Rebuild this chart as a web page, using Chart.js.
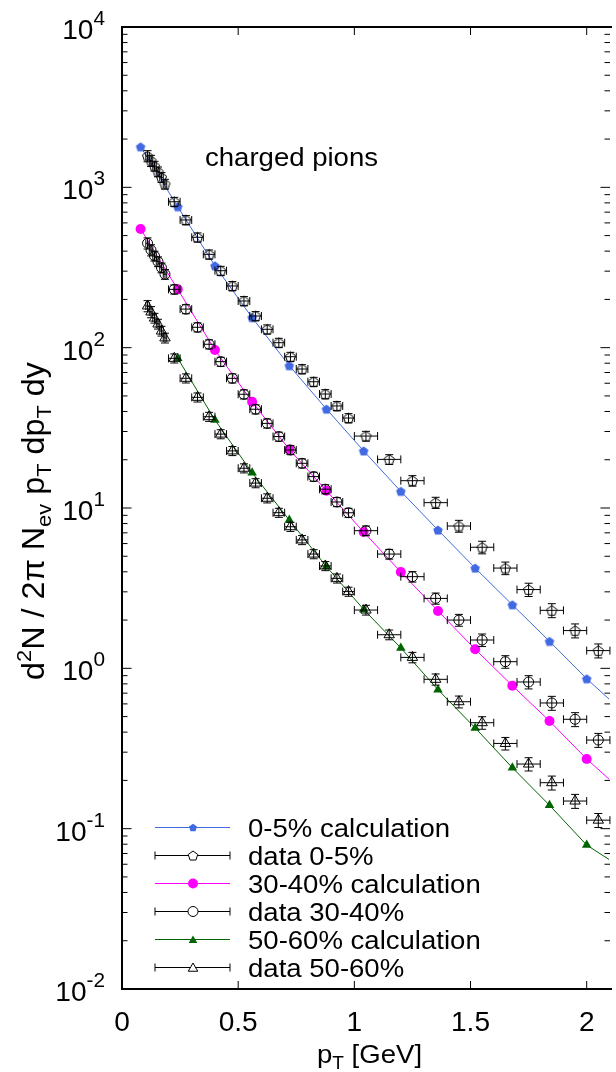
<!DOCTYPE html>
<html><head><meta charset="utf-8">
<script src="https://cdn.jsdelivr.net/npm/chart.js@4"></script>
<style>html,body{margin:0;padding:0;background:#fff;overflow:hidden}#wrap{width:616px;height:1072px}</style>
</head><body><div id="wrap"><canvas id="c" width="616" height="1072"></canvas></div>
<script>
// ---- data ----
const calcPt = [0.08,0.24,0.40,0.56,0.72,0.88,1.04,1.20,1.36,1.52,1.68,1.84,2.00,2.16];
const calc0_5 = [1791,757,324,154,77.2,41.4,22.7,12.7,7.29,4.22,2.49,1.474,0.861,0.53];
const calc30_40 = [550,231,96.7,46.0,23.2,12.8,7.08,3.99,2.28,1.315,0.78,0.469,0.272,0.168];
const calc50_60 = [null,85.8,35.4,16.6,8.41,4.31,2.33,1.34,0.736,0.425,0.240,0.140,0.079,0.056];

const dataPt = [0.11,0.125,0.14,0.155,0.17,0.185,
  0.225,0.275,0.325,0.375,0.425,0.475,0.525,0.575,0.625,0.675,0.725,0.775,0.825,0.875,0.925,0.975,
  1.05,1.15,1.25,1.35,1.45,1.55,1.65,1.75,1.85,1.95,2.05];
const dataPtErr = [0.0075,0.0075,0.0075,0.0075,0.0075,0.0075,
  0.025,0.025,0.025,0.025,0.025,0.025,0.025,0.025,0.025,0.025,0.025,0.025,0.025,0.025,0.025,0.025,
  0.05,0.05,0.05,0.05,0.05,0.05,0.05,0.05,0.05,0.05,0.05];
const data0_5 = [1568,1466,1358,1252,1155,1049,
  813,626,488,382,302,242.6,195.5,157.6,130.2,107.4,87.8,73.6,61.3,51.4,43.3,36.4,
  28.1,20.1,14.8,10.8,7.72,5.69,4.22,3.10,2.30,1.72,1.29];
const data30_40 = [448,406,373,344,315,287,
  231,174,134,105,81.8,64.4,51.2,41.3,33.7,27.9,23.0,19.0,15.7,13.1,10.9,9.34,
  7.22,5.16,3.73,2.73,2.00,1.502,1.10,0.822,0.608,0.481,0.357];
const data50_60 = [182,167,153,140.5,127,115,
  85.8,64.4,49.0,37.1,28.9,22.7,17.7,14.3,11.5,9.35,7.64,6.32,5.16,4.35,3.64,3.01,
  2.31,1.62,1.17,0.854,0.619,0.458,0.340,0.253,0.1935,0.1487,0.113];
const relErr = [0.08,0.08,0.07,0.07,0.07,0.07,
  0.065,0.065,0.065,0.065,0.065,0.065,0.065,0.065,0.065,0.065,0.065,0.065,0.065,0.065,0.065,0.065,
  0.07,0.07,0.075,0.08,0.085,0.09,0.09,0.095,0.1,0.1,0.1];

const xTicks = [0,0.5,1,1.5,2];
const xTickLabels = ['0','0.5','1','1.5','2'];
const yTickExps = [-2,-1,0,1,2,3,4];
const legendLabels = ['0-5% calculation','data 0-5%','30-40% calculation','data 30-40%','50-60% calculation','data 50-60%'];

// ---- styles ----
const FONT = '"Liberation Sans", Arial, Helvetica, sans-serif';
const BLUE = '#4169e1', MAG = '#ff00ff', GRN = '#006400';

function polyPath(g, n, cx, cy, r) {
  g.beginPath();
  for (let i = 0; i < n; i++) {
    const a = -Math.PI/2 + i*2*Math.PI/n;
    const px = cx + r*Math.cos(a), py = cy + r*Math.sin(a);
    if (i) g.lineTo(px, py); else g.moveTo(px, py);
  }
  g.closePath();
}
function polyCanvas(n, r, fill, stroke, lw) {
  const s = Math.ceil(2*r + 4);
  const c = document.createElement('canvas'); c.width = s; c.height = s;
  const g = c.getContext('2d');
  polyPath(g, n, s/2, s/2 + r*0.1, r);
  if (fill) { g.fillStyle = fill; g.fill(); }
  if (stroke) { g.strokeStyle = stroke; g.lineWidth = lw; g.stroke(); }
  return c;
}
const pentFilled = polyCanvas(5, 5, BLUE, null, 0);
const pentOpen = polyCanvas(5, 5.3, null, '#000', 1);

function pts(xs, ys) { return xs.map((p, i) => ({x: p, y: ys[i]})); }

function calcDs(vals, color, style, r) {
  return { data: pts(calcPt, vals), showLine: true, borderColor: color, borderWidth: 1,
    pointStyle: style, pointRadius: r, pointBackgroundColor: color, pointBorderColor: color,
    pointBorderWidth: 0, order: 2, spanGaps: false };
}
function dataDs(vals, style, r) {
  return { data: pts(dataPt, vals), showLine: false, pointStyle: style, pointRadius: r,
    pointBackgroundColor: 'rgba(0,0,0,0)', pointBorderColor: '#000', pointBorderWidth: 1, order: 1 };
}

function richWidth(ctx, parts) {
  let total = 0;
  for (const p of parts) { ctx.font = p[1] + 'px ' + FONT; total += ctx.measureText(p[0]).width; }
  return total;
}
function drawRich(ctx, parts, x, y, align, sx) {
  sx = sx || 1;
  const total = richWidth(ctx, parts) * sx;
  const start = align === 'right' ? x - total : align === 'center' ? x - total/2 : x;
  ctx.save();
  ctx.translate(start, y); ctx.scale(sx, 1);
  ctx.textAlign = 'left'; ctx.textBaseline = 'alphabetic';
  let cx = 0;
  for (const p of parts) {
    ctx.font = p[1] + 'px ' + FONT;
    ctx.fillText(p[0], cx, p[2] || 0);
    cx += ctx.measureText(p[0]).width;
  }
  ctx.restore();
}

const errPlugin = {
  id: 'errbars',
  afterDatasetsDraw(chart) {
    const {ctx, chartArea: a, scales: {x, y}} = chart;
    ctx.save();
    ctx.beginPath(); ctx.rect(a.left, a.top, a.width + 5, a.height); ctx.clip();
    ctx.strokeStyle = '#000'; ctx.lineWidth = 1;
    const cap = 4;
    for (const ser of [data0_5, data30_40, data50_60]) {
      for (let i = 0; i < dataPt.length; i++) {
        const v = ser[i];
        const px = x.getPixelForValue(dataPt[i]);
        const x0 = x.getPixelForValue(dataPt[i] - dataPtErr[i]);
        const x1 = x.getPixelForValue(dataPt[i] + dataPtErr[i]);
        const py = y.getPixelForValue(v);
        const y0 = y.getPixelForValue(v * (1 - relErr[i]));
        const y1 = y.getPixelForValue(v * (1 + relErr[i]));
        ctx.beginPath();
        ctx.moveTo(x0, py); ctx.lineTo(x1, py);
        ctx.moveTo(x0, py - cap); ctx.lineTo(x0, py + cap);
        ctx.moveTo(x1, py - cap); ctx.lineTo(x1, py + cap);
        ctx.moveTo(px, y0); ctx.lineTo(px, y1);
        ctx.moveTo(px - cap, y0); ctx.lineTo(px + cap, y0);
        ctx.moveTo(px - cap, y1); ctx.lineTo(px + cap, y1);
        ctx.stroke();
      }
    }
    ctx.restore();
  }
};

const framePlugin = {
  id: 'frame',
  afterDraw(chart) {
    const {ctx, chartArea: a, scales: {x, y}} = chart;
    const R = a.right + 1; // right axis sits just off the canvas
    ctx.save();
    ctx.strokeStyle = '#000'; ctx.fillStyle = '#000';
    ctx.lineWidth = 1;
    ctx.beginPath();
    for (let k = 0; k < yTickExps.length; k++) {
      const e = yTickExps[k];
      for (let m = 1; m < 10; m++) {
        if (k === yTickExps.length - 1 && m > 1) break;
        const py = y.getPixelForValue(m * Math.pow(10, e));
        const len = m === 1 ? 9.5 : 5.5;
        ctx.moveTo(a.left, py); ctx.lineTo(a.left + len, py);
        ctx.moveTo(R, py); ctx.lineTo(R - len, py);
      }
    }
    for (const t of xTicks) {
      const px = x.getPixelForValue(t);
      ctx.moveTo(px, a.bottom); ctx.lineTo(px, a.bottom - 8);
      ctx.moveTo(px, a.top); ctx.lineTo(px, a.top + 8);
    }
    ctx.stroke();
    // border (left, top, bottom; right one is off-canvas)
    ctx.lineWidth = 2;
    ctx.beginPath();
    ctx.moveTo(R + 2, a.top); ctx.lineTo(a.left, a.top); ctx.lineTo(a.left, a.bottom); ctx.lineTo(R + 2, a.bottom);
    ctx.stroke();

    // y tick labels
    for (const e of yTickExps) {
      const py = y.getPixelForValue(Math.pow(10, e));
      drawRich(ctx, [['10', 27, 0], [String(e), 20, -14]], 105, py + 12, 'right', 1.04);
    }
    // x tick labels
    xTicks.forEach((t, i) => {
      drawRich(ctx, [[xTickLabels[i], 27, 0]], x.getPixelForValue(t), 1031, 'center', 1.04);
    });
    // x title
    drawRich(ctx, [['p', 26, 0], ['T', 18, 6], [' [GeV]', 26, 0]], 369.5, 1063, 'center', 1.06);
    // y title (rotated, fitted to its length in the picture)
    const yTitle = [['d', 31, 0], ['2', 21, -13], ['N / 2\u03c0 N', 31, 0], ['ev', 21, 7],
      [' p', 31, 0], ['T', 21, 7], [' dp', 31, 0], ['T', 21, 7], [' dy', 31, 0]];
    const tw = richWidth(ctx, yTitle);
    ctx.save();
    ctx.translate(44, 521);
    ctx.rotate(-Math.PI / 2);
    ctx.scale(318 / tw, 1);
    drawRich(ctx, yTitle, 0, 0, 'center');
    ctx.restore();
    // annotation
    drawRich(ctx, [['charged pions', 25.5, 0]], 205, 166, 'left', 1.08);

    // legend
    const rowY = [827.5, 855.5, 883.5, 911.5, 939.5, 967.5];
    const lx0 = 155, lx1 = 230, mx = 193;
    const colors = [BLUE, '#000', MAG, '#000', GRN, '#000'];
    for (let i = 0; i < 6; i++) {
      const ry = rowY[i];
      ctx.strokeStyle = colors[i]; ctx.lineWidth = 1;
      ctx.beginPath(); ctx.moveTo(lx0, ry); ctx.lineTo(lx1, ry);
      if (i % 2 === 1) {
        ctx.moveTo(lx0, ry - 4); ctx.lineTo(lx0, ry + 4);
        ctx.moveTo(lx1, ry - 4); ctx.lineTo(lx1, ry + 4);
      }
      ctx.stroke();
      if (i === 0) { polyPath(ctx, 5, mx, ry + 0.4, 4.2); ctx.fillStyle = BLUE; ctx.fill(); }
      if (i === 1) { polyPath(ctx, 5, mx, ry + 0.5, 5); ctx.fillStyle = '#fff'; ctx.fill(); ctx.strokeStyle = '#000'; ctx.stroke(); }
      if (i === 2) { ctx.beginPath(); ctx.arc(mx, ry, 5, 0, 2 * Math.PI); ctx.fillStyle = MAG; ctx.fill(); }
      if (i === 3) { ctx.beginPath(); ctx.arc(mx, ry, 5, 0, 2 * Math.PI); ctx.fillStyle = '#fff'; ctx.fill(); ctx.strokeStyle = '#000'; ctx.stroke(); }
      if (i === 4) { polyPath(ctx, 3, mx, ry + 1, 5); ctx.fillStyle = GRN; ctx.fill(); }
      if (i === 5) { polyPath(ctx, 3, mx, ry + 1, 5.5); ctx.fillStyle = '#fff'; ctx.fill(); ctx.strokeStyle = '#000'; ctx.stroke(); }
      ctx.fillStyle = '#000';
      drawRich(ctx, [[legendLabels[i], 25.5, 0]], 248, ry + 9, 'left', 1.08);
    }
    ctx.restore();
  }
};

new Chart(document.getElementById('c'), {
  type: 'scatter',
  data: { datasets: [
    calcDs(calc0_5, BLUE, pentFilled, 5),
    dataDs(data0_5, pentOpen, 5),
    calcDs(calc30_40, MAG, 'circle', 5),
    dataDs(data30_40, 'circle', 5),
    calcDs(calc50_60, GRN, 'triangle', 5.5),
    dataDs(data50_60, 'triangle', 6)
  ]},
  options: {
    responsive: false, animation: false, devicePixelRatio: 1,
    layout: { padding: { left: 0, top: 27, right: 0, bottom: 0 } },
    plugins: { legend: { display: false }, tooltip: { enabled: false } },
    scales: {
      x: { type: 'linear', min: 0, max: 2.096, ticks: { display: false }, grid: { display: false },
           border: { display: false }, afterFit(s) { s.height = 83; } },
      y: { type: 'logarithmic', min: 0.01, max: 10000, ticks: { display: false }, grid: { display: false },
           border: { display: false }, afterFit(s) { s.width = 122; } }
    }
  },
  plugins: [errPlugin, framePlugin]
});
</script>
</body></html>
